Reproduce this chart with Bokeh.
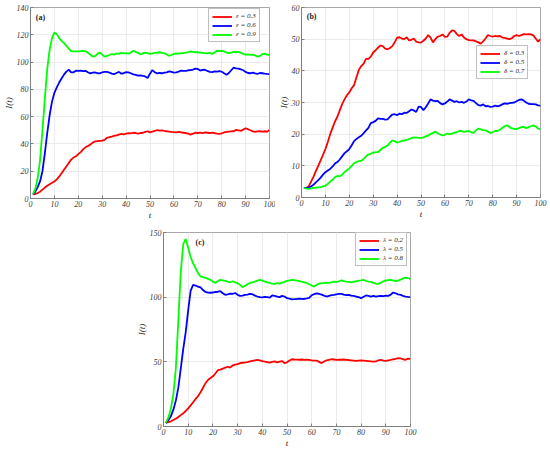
from bokeh.plotting import figure
from bokeh.models import Legend, LegendItem, Label, Spacer, FixedTicker, Range1d
from bokeh.layouts import column, row
from bokeh.embed import file_html
from bokeh.resources import INLINE

t = list(range(1, 101))

# ---- panel (a): epsilon ----
a_labels = ["\u03b5 = 0.3", "\u03b5 = 0.6", "\u03b5 = 0.9"]
a_eps03 = [3.0, 3.3, 4.0, 5.0, 6.5, 8.0, 9.3, 10.5, 11.5, 12.5,
           14.0, 16.0, 18.5, 21.0, 23.5, 26.0, 28.5, 30.0, 31.0, 32.5,
           34.0, 36.0, 37.5, 38.5, 39.5, 41.0, 41.8, 42.0, 42.2, 42.4,
           43.0, 44.5, 44.9, 45.3, 46.0, 46.2, 46.8, 47.3, 47.0, 47.6,
           48.0, 47.7, 48.2, 48.0, 47.6, 48.0, 48.2, 48.8, 49.3, 48.5,
           49.0, 49.5, 50.2, 49.8, 50.0, 49.6, 49.3, 49.0, 48.8, 48.7,
           48.4, 48.8, 48.5, 48.2, 48.0, 47.5, 46.8, 47.5, 48.2, 48.0,
           48.3, 48.0, 48.4, 48.2, 48.0, 48.3, 48.0, 47.6, 47.3, 47.8,
           48.4, 48.8, 49.0, 49.2, 49.3, 50.3, 50.0, 49.6, 50.5, 51.5,
           50.8, 50.0, 49.2, 48.8, 49.2, 49.3, 49.0, 49.3, 49.0, 50.2]
a_eps06 = [3.0, 5.0, 8.3, 12.5, 20.0, 33.0, 48.0, 61.0, 71.0, 77.5,
           81.5, 85.0, 88.0, 90.8, 93.0, 94.4, 92.4, 92.5, 93.7, 93.5,
           93.8, 93.3, 93.6, 92.5, 91.7, 92.3, 92.4, 91.8, 91.7, 92.5,
           92.8, 92.8, 92.3, 91.5, 91.2, 92.0, 92.8, 91.5, 91.8, 92.6,
           92.5, 91.8, 91.0, 90.6, 90.0, 90.2, 89.8, 89.5, 88.3, 91.5,
           94.1, 92.5, 91.7, 92.0, 91.8, 92.2, 92.5, 93.2, 92.8, 92.2,
           92.5, 93.0, 93.8, 93.5, 93.6, 94.0, 94.1, 94.5, 95.2, 95.0,
           93.8, 94.2, 94.4, 93.5, 92.8, 92.6, 93.2, 93.0, 93.4, 93.0,
           91.8, 90.7, 92.0, 94.0, 96.0, 95.4, 95.2, 94.6, 94.0, 92.8,
           92.0, 91.8, 92.2, 91.7, 91.4, 92.0, 91.8, 91.5, 91.3, 91.2]
a_eps09 = [3.0, 7.0, 15.0, 28.0, 50.0, 73.0, 95.0, 109.0, 117.5, 121.7,
           120.5, 117.5, 115.5, 114.0, 112.0, 109.8, 108.0, 107.8, 107.8, 107.8,
           108.0, 108.2, 108.0, 106.8, 105.5, 104.0, 104.3, 106.0, 107.0, 105.5,
           104.0, 104.6, 105.2, 105.9, 105.5, 106.3, 106.0, 106.8, 106.3, 106.5,
           106.2, 107.0, 108.3, 107.5, 106.8, 105.6, 106.5, 107.0, 106.5, 106.0,
           106.3, 106.7, 107.0, 107.2, 106.8, 106.5, 105.6, 104.6, 105.2, 106.0,
           106.4, 106.2, 106.5, 106.6, 107.0, 107.3, 107.8, 107.4, 107.2, 107.2,
           107.0, 106.8, 106.5, 106.3, 106.8, 106.0, 107.0, 108.3, 108.0, 108.2,
           107.8, 107.0, 106.5, 107.0, 107.5, 107.2, 107.4, 106.8, 106.0, 105.4,
           105.6, 105.2, 105.5, 104.8, 103.9, 104.5, 105.8, 106.2, 105.5, 105.1]

# ---- panel (b): delta ----
b_labels = ["\u03b4 = 0.3", "\u03b4 = 0.5", "\u03b4 = 0.7"]
b_d03 = [3.0, 3.0, 3.5, 5.0, 6.5, 8.3, 10.0, 11.7, 13.5, 15.3,
         17.5, 20.0, 22.0, 24.0, 25.5, 27.5, 29.5, 31.0, 32.3, 33.2,
         34.5, 35.5, 38.0, 40.3, 41.5, 42.3, 43.8, 43.8, 44.5, 45.8,
         46.5, 47.3, 48.0, 47.8, 47.0, 46.8, 47.2, 47.8, 49.0, 50.5,
         50.6, 50.2, 50.0, 50.6, 49.6, 49.8, 50.2, 49.2, 49.0, 48.9,
         49.5, 50.2, 51.3, 50.5, 49.0, 50.0, 50.8, 51.0, 51.5, 50.7,
         50.8, 52.0, 52.8, 52.6, 51.6, 51.0, 51.5, 50.5, 50.0, 49.7,
         49.6, 49.6, 49.3, 49.0, 48.6, 49.3, 50.2, 51.3, 51.0, 50.8,
         51.0, 50.9, 51.0, 50.5, 50.4, 50.2, 50.0, 50.3, 51.0, 51.3,
         51.0, 51.3, 51.6, 51.5, 51.6, 51.5, 51.2, 50.2, 49.2, 50.0]
b_d05 = [3.0, 3.0, 3.1, 3.5, 4.0, 4.8, 5.5, 6.3, 7.2, 8.0,
         8.5, 9.0, 9.8, 10.7, 11.2, 12.0, 13.0, 14.0, 14.6, 15.3,
         16.5, 17.8, 18.5, 19.0, 19.5, 20.3, 21.2, 22.0, 23.5, 23.8,
         24.2, 25.0, 24.8, 24.8, 24.6, 24.7, 25.5, 26.2, 26.3, 26.0,
         26.5, 26.3, 26.8, 26.7, 27.2, 27.8, 27.5, 27.0, 28.7, 28.6,
         27.6, 28.5, 29.7, 31.0, 30.6, 30.4, 30.5, 29.8, 29.4, 29.7,
         30.3, 31.0, 30.6, 30.2, 30.4, 30.0, 30.2, 29.9, 30.3, 31.0,
         30.7, 30.5, 29.8, 29.2, 29.0, 29.4, 28.8, 28.9, 28.6, 28.7,
         29.0, 28.8, 29.0, 29.4, 29.7, 29.6, 29.8, 29.9, 30.0, 30.4,
         30.8, 31.0, 30.6, 30.0, 29.6, 29.5, 29.5, 29.4, 29.1, 29.0]
b_d07 = [3.0, 2.8, 2.7, 2.9, 3.0, 3.1, 3.2, 3.3, 3.5, 3.7,
         4.3, 5.0, 5.6, 6.4, 6.8, 6.7, 7.2, 8.0, 8.6, 9.2,
         10.0, 10.8, 11.2, 11.5, 11.6, 12.2, 13.0, 13.6, 13.8, 14.2,
         14.3, 14.3, 15.0, 15.7, 16.0, 16.4, 17.3, 18.0, 17.8, 17.3,
         17.6, 17.9, 18.0, 18.2, 18.4, 18.8, 19.0, 18.9, 18.8, 18.8,
         19.0, 19.3, 19.6, 20.0, 20.4, 20.8, 20.3, 19.9, 19.6, 19.8,
         20.2, 20.0, 20.2, 20.5, 20.6, 21.0, 21.0, 20.7, 20.9, 21.0,
         20.6, 20.4, 21.2, 21.8, 21.5, 21.3, 21.2, 20.8, 20.4, 20.6,
         21.0, 21.0, 21.4, 22.0, 22.5, 22.8, 22.3, 21.8, 21.7, 21.6,
         21.9, 22.2, 22.3, 21.9, 22.2, 22.5, 22.8, 22.4, 21.8, 21.5]

# ---- panel (c): lambda ----
c_labels = ["\u03bb = 0.2", "\u03bb = 0.5", "\u03bb = 0.8"]
c_l02 = [3.0, 3.4, 4.0, 5.0, 6.0, 7.3, 8.8, 10.2, 12.0, 14.0,
         16.3, 18.8, 21.3, 23.5, 26.5, 30.0, 33.5, 36.0, 37.5, 38.8,
         41.0, 43.5, 44.0, 44.8, 45.5, 46.2, 45.5, 47.2, 47.8, 48.3,
         49.0, 49.3, 49.5, 49.8, 50.3, 50.8, 51.2, 51.5, 51.2, 50.6,
         50.2, 49.8, 49.4, 50.0, 50.3, 49.6, 50.2, 50.6, 49.0, 49.6,
         51.0, 52.0, 51.8, 51.7, 51.6, 51.8, 51.5, 51.7, 51.5, 51.2,
         51.0, 51.0, 50.0, 49.0, 50.3, 51.2, 51.5, 52.0, 51.8, 51.5,
         51.6, 51.6, 51.8, 51.5, 51.4, 51.2, 51.0, 50.8, 51.0, 51.2,
         51.0, 50.8, 50.6, 50.4, 50.2, 50.3, 51.2, 51.6, 51.0, 50.8,
         51.2, 51.5, 52.0, 52.3, 52.8, 52.6, 52.0, 51.6, 52.5, 52.3]
c_l05 = [2.6, 5.0, 8.0, 13.0, 20.0, 30.0, 45.0, 60.0, 73.0, 90.0,
         105.0, 109.5, 109.0, 108.2, 107.5, 105.5, 104.0, 103.5, 103.4, 103.6,
         104.0, 104.2, 104.6, 103.0, 101.8, 102.2, 102.8, 102.5, 103.2, 101.8,
         101.0, 101.2, 101.8, 102.0, 102.5, 102.3, 101.2, 100.5, 100.0, 99.8,
         100.3, 100.0, 99.6, 101.3, 101.0, 100.5, 100.0, 101.0, 100.5, 99.2,
         98.8, 98.3, 98.5, 98.6, 98.8, 98.7, 98.6, 99.0, 99.5, 101.5,
         102.3, 103.0, 102.5, 102.0, 101.2, 100.5, 101.0, 101.5, 101.8, 102.2,
         102.5, 102.6, 102.0, 101.5, 101.8, 101.2, 101.0, 100.5, 100.0, 99.2,
         100.3, 101.3, 101.0, 100.5, 101.0, 100.5, 100.8, 101.0, 100.8, 101.2,
         101.0, 102.0, 103.6, 103.0, 102.2, 101.8, 101.0, 100.5, 100.2, 100.0]
c_l08 = [3.0, 7.0, 14.0, 25.0, 45.0, 82.0, 120.0, 141.0, 145.0, 138.0,
         131.0, 126.0, 122.5, 118.5, 116.0, 115.5, 115.0, 114.2, 113.4, 112.0,
         111.0, 112.5, 113.4, 113.0, 112.6, 112.0, 111.5, 112.3, 111.5, 110.8,
         109.5, 107.7, 108.8, 110.0, 111.0, 111.5, 112.0, 112.8, 113.4, 112.8,
         112.0, 111.5, 111.0, 110.5, 110.2, 110.8, 110.5, 111.3, 111.8, 112.6,
         113.0, 113.4, 113.2, 112.8, 112.5, 112.0, 111.5, 111.0, 110.0, 109.0,
         108.2, 109.5, 110.5, 110.8, 111.0, 111.3, 111.0, 111.5, 112.0, 111.8,
         112.3, 112.9, 112.5, 112.0, 111.8, 111.5, 112.0, 112.3, 112.8, 113.0,
         113.4, 112.5, 112.0, 111.8, 111.0, 110.5, 110.3, 111.2, 112.3, 113.0,
         113.2, 113.4, 113.0, 112.3, 112.8, 113.5, 114.5, 115.2, 114.8, 113.9]

x_ticks = [0, 10, 20, 30, 40, 50, 60, 70, 80, 90, 100]
a_yticks = [0, 20, 40, 60, 80, 100, 120, 140]
b_yticks = [0, 10, 20, 30, 40, 50, 60]
c_yticks = [0, 50, 100, 150]

COLORS = ["#ff0000", "#0000ff", "#00ff00"]
SERIF = "Liberation Serif"
LEG_W, LEG_H = 49, 28


def panel(series, labels, yticks, tag, tag_xy, fw, fh, borders, leg_gap):
    bl, br, bt, bb = borders
    p = figure(frame_width=fw, frame_height=fh,
               x_range=Range1d(0, 100), y_range=Range1d(yticks[0], yticks[-1]),
               output_backend="svg", toolbar_location=None,
               min_border_left=bl, min_border_right=br,
               min_border_top=bt, min_border_bottom=bb,
               background_fill_color="white", border_fill_color="white")
    p.xaxis.ticker = FixedTicker(ticks=x_ticks)
    p.yaxis.ticker = FixedTicker(ticks=yticks)
    p.xaxis.axis_label = "t"
    p.yaxis.axis_label = "I(t)"
    for ax in (p.xaxis[0], p.yaxis[0]):
        ax.major_label_text_font = SERIF
        ax.major_label_text_font_style = "italic"
        ax.major_label_text_font_size = "8px"
        ax.major_label_text_color = "#404040"
        ax.axis_label_text_font = SERIF
        ax.axis_label_text_font_style = "italic"
        ax.axis_label_text_font_size = "9px"
        ax.axis_label_text_color = "#262626"
        ax.axis_line_color = "#7f7f7f"
        ax.major_tick_line_color = "#7f7f7f"
        ax.major_tick_in = 3
        ax.major_tick_out = 0
        ax.minor_tick_line_color = None
        ax.major_label_standoff = 2
        ax.axis_label_standoff = 0
    p.outline_line_color = "#a8a8a8"
    p.xgrid.grid_line_color = "#e6e6e6"
    p.ygrid.grid_line_color = "#e6e6e6"
    p.grid.grid_line_width = 0.8

    items = []
    for vals, col, lab in zip(series, COLORS, labels):
        r = p.line(t, vals, line_color=col, line_width=1.8)
        items.append(LegendItem(label=lab, renderers=[r]))
    gap_r, gap_t = leg_gap
    leg = Legend(items=items, location=(fw - gap_r - LEG_W, fh - gap_t - LEG_H),
                 label_text_font=SERIF, label_text_font_style="italic",
                 label_text_font_size="7px", label_text_color="#262626",
                 glyph_width=20, glyph_height=7, label_height=7,
                 label_standoff=4, spacing=1, padding=3, margin=0,
                 border_line_color="#7f7f7f", border_line_width=1,
                 background_fill_color="white", background_fill_alpha=1.0)
    p.add_layout(leg)
    p.add_layout(Label(x=tag_xy[0], y=tag_xy[1], text=tag,
                       text_font=SERIF, text_font_style="bold",
                       text_font_size="8px", text_color="#262626",
                       text_baseline="middle"))
    return p


pa = panel([a_eps03, a_eps06, a_eps09], a_labels, a_yticks, "(a)", (2.2, 133),
           239, 191, (29, 6, 7, 29), (12, 7))
pb = panel([b_d03, b_d05, b_d07], b_labels, b_yticks, "(b)", (2.2, 57.3),
           239, 190, (22, 7, 7, 30), (15, 44))
pc = panel([c_l02, c_l05, c_l08], c_labels, c_yticks, "(c)", (13, 142.5),
           247, 194, (26, 8, 5, 24), (6, 6))

layout = column(row(pa, pb), row(Spacer(width=133, height=10), pc))

open("out.html", "w").write(file_html(layout, INLINE))
